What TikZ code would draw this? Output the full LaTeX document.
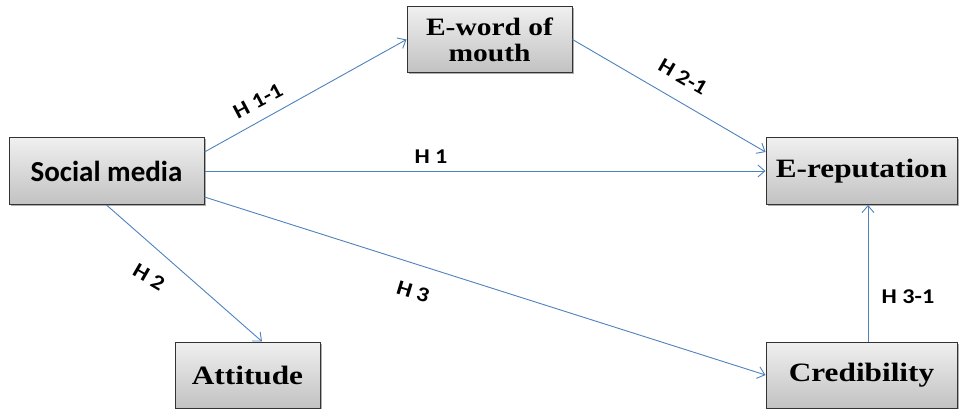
\documentclass[tikz,border=0pt]{standalone}
\usepackage{fontspec}
\setmainfont{Liberation Serif}
\newfontfamily\boxsans{Carlito}
\newfontfamily\boxserif[FakeStretch=1.18]{Liberation Serif}
\newfontfamily\labelsans[FakeStretch=1.15]{Carlito Bold}
\usetikzlibrary{arrows.meta,shadows}
\definecolor{linkblue}{HTML}{4F81BD}
\tikzset{
  conceptbox/.style={draw=black!80, line width=1pt,
    top color=black!6, bottom color=black!24,
    minimum height=67pt, inner sep=0pt, align=center,
    drop shadow={shadow xshift=1.5pt, shadow yshift=-1.5pt, opacity=0.45, fill=black!70}},
  serifbox/.style={conceptbox, font=\boxserif\fontsize{26.5}{28}\selectfont\bfseries},
  link/.style={draw=linkblue, line width=0.9pt, -{Straight Barb[length=7pt,width=12pt]}},
  hlabel/.style={font=\labelsans\fontsize{21}{24}\selectfont, inner sep=0pt}
}
\begin{document}
\begin{tikzpicture}[x=1pt, y=-1pt]
  \useasboundingbox (0,0) rectangle (960,409);

  % concept boxes
  \node[conceptbox, minimum width=195pt, font=\boxsans\fontsize{29}{31}\selectfont\bfseries]
    (social) at (106.5,171) {Social media};
  \node[serifbox, minimum width=165pt, minimum height=66pt, font=\boxserif\fontsize{25}{26}\selectfont\bfseries]
    (eword) at (489.5,39.5) {E-word of\\mouth};
  \node[serifbox, minimum width=191pt] (erep) at (861.5,171) {E-reputation};
  \node[serifbox, minimum width=145pt, minimum height=66pt] (attitude) at (247.5,375) {Attitude};
  \node[serifbox, minimum width=191pt, minimum height=66pt] (cred) at (861.5,375) {Credibility};

  % hypothesised paths
  \draw[link] ([yshift=19pt]social.east) -- (eword.west);
  \draw[link] (social.east) -- (erep.west);
  \draw[link] ([yshift=-26pt]social.east) -- (cred.west);
  \draw[link] (social.south) -- ([xshift=14.5pt]attitude.north);
  \draw[link] (eword.east) -- ([yshift=19pt]erep.west);
  \draw[link] ([xshift=6.5pt]cred.north) -- ([xshift=6.5pt]erep.south);

  % path labels
  \node[hlabel, rotate=28] (l11) at (258,101) {H 1-1};
  \node[hlabel, rotate=-30] (l21) at (683,77) {H 2-1};
  \node[hlabel] (l1) at (431,157) {H 1};
  \node[hlabel, rotate=-30] (l2) at (149,277) {H 2};
  \node[hlabel, rotate=-17] (l3) at (413,292) {H 3};
  \node[hlabel] (l31) at (908,297) {H 3-1};
\end{tikzpicture}
\end{document}
